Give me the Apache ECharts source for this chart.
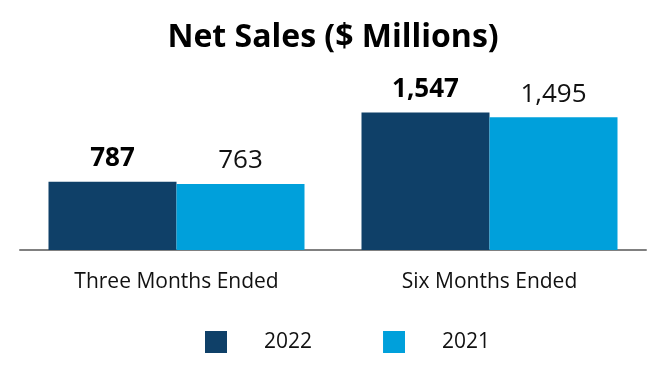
<!DOCTYPE html>
<html><head><meta charset="utf-8">
<script src="https://cdn.jsdelivr.net/npm/echarts@6/dist/echarts.min.js"></script>
<style>html,body{margin:0;padding:0;background:#fff}#c{width:666px;height:380px}</style>
</head><body><div id="c"></div>
<script>
const categories = ['Three Months Ended', 'Six Months Ended'];
const seriesNames = ['2022', '2021'];
const sales2022 = [787, 1547];
const sales2021 = [763, 1495];
const FONT = '"Open Sans", "Noto Sans", sans-serif';
const fmt = p => p.value.toLocaleString('en-US');
const chart = echarts.init(document.getElementById('c'));
chart.setOption({
  animation: false,
  title: { text: 'Net Sales ($ Millions)', left: 'center', top: 17,
    textStyle: { fontFamily: FONT, fontSize: 32, fontWeight: 'bold', color: '#000' } },
  grid: { left: 20, right: 20, top: 63, bottom: 130 },
  legend: { bottom: 22, left: 200, itemWidth: 22, itemHeight: 22, itemGap: 71, icon: 'rect',
    textStyle: { fontFamily: FONT, fontSize: 21, color: '#111', padding: [0, 0, 0, 32] },
    data: seriesNames },
  xAxis: { type: 'category', data: categories,
    axisLine: { lineStyle: { color: '#808080', width: 2 } }, axisTick: { show: false },
    axisLabel: { fontFamily: FONT, fontSize: 21, color: '#111', margin: 22 } },
  yAxis: { type: 'value', min: 40, max: 2090, show: false, splitLine: { show: false } },
  series: [
    { name: seriesNames[0], type: 'bar', data: sales2022, barWidth: 128, barGap: '0%',
      itemStyle: { color: '#0f4068' },
      label: { show: true, position: 'top', distance: 10, formatter: fmt,
        fontFamily: FONT, fontSize: 26, fontWeight: 'bold', color: '#000' } },
    { name: seriesNames[1], type: 'bar', data: sales2021, barWidth: 128,
      itemStyle: { color: '#00a0db' },
      label: { show: true, position: 'top', distance: 10, formatter: fmt,
        fontFamily: FONT, fontSize: 26, color: '#111' } }
  ]
});
</script></body></html>
